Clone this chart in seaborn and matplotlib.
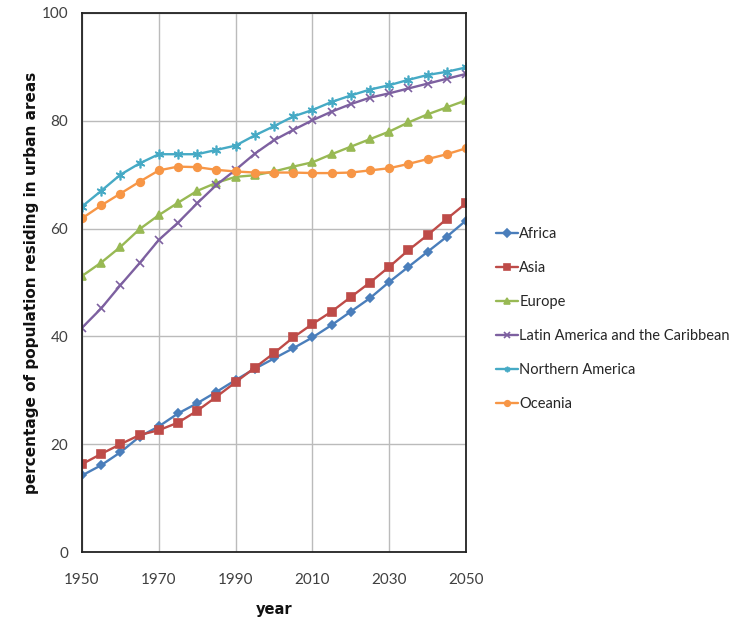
import numpy as np
import pandas as pd
import matplotlib
matplotlib.use("Agg")
import matplotlib.pyplot as plt
import seaborn as sns
from matplotlib.ticker import MultipleLocator

years = list(range(1950, 2051, 5))
africa = [14.2, 16.1, 18.5, 21.4, 23.3, 25.7, 27.6, 29.7, 31.9, 34.0, 35.9, 37.8, 39.8, 42.1, 44.6, 47.1, 50.1, 52.9, 55.7, 58.5, 61.5]
asia = [16.3, 18.2, 20.0, 21.7, 22.6, 24.0, 26.2, 28.8, 31.5, 34.2, 36.9, 39.8, 42.3, 44.6, 47.3, 50.0, 52.9, 56.0, 58.8, 61.8, 64.7]
europe = [51.2, 53.7, 56.6, 59.9, 62.5, 64.8, 67.0, 68.5, 69.6, 69.9, 70.6, 71.5, 72.3, 73.8, 75.2, 76.6, 78.0, 79.7, 81.2, 82.5, 83.8]
latin = [41.6, 45.2, 49.5, 53.6, 57.9, 61.1, 64.7, 68.1, 70.9, 73.9, 76.4, 78.3, 80.1, 81.7, 83.1, 84.3, 85.1, 86.0, 86.9, 87.8, 88.7]
northam = [64.1, 67.0, 70.0, 72.1, 73.8, 73.8, 73.8, 74.6, 75.4, 77.3, 79.0, 80.8, 82.0, 83.5, 84.7, 85.8, 86.6, 87.6, 88.5, 89.1, 89.9]
oceania = [61.9, 64.3, 66.5, 68.7, 70.8, 71.5, 71.4, 70.9, 70.6, 70.4, 70.4, 70.4, 70.3, 70.3, 70.4, 70.8, 71.2, 72.0, 72.9, 73.8, 74.9]

regions = ["Africa", "Asia", "Europe", "Latin America and the Caribbean", "Northern America", "Oceania"]
series = [africa, asia, europe, latin, northam, oceania]
colors = ["#4A7EBB", "#BE4B48", "#98B954", "#7D60A0", "#46AAC5", "#F79646"]
markers = ["D", "s", "^", "x", (6, 2, 0), "o"]
msizes = [4.5, 5.5, 6, 6, 7, 5.5]

df = pd.DataFrame({
    "year": np.tile(years, len(regions)),
    "value": np.concatenate(series),
    "region": np.repeat(regions, len(years)),
})

sns.set_style("white")
plt.rcParams["font.family"] = ["Lato", "DejaVu Sans"]

fig = plt.figure(figsize=(7.51, 6.21), dpi=100)
ax = fig.add_axes([82/751, 1-552/621, (466-82)/751, (552-13)/621])

for i, r in enumerate(regions):
    sub = df[df["region"] == r]
    sns.lineplot(data=sub, x="year", y="value", ax=ax, color=colors[i],
                 marker=markers[i], markersize=msizes[i], linewidth=1.7,
                 markeredgecolor=colors[i], markeredgewidth=1.2, label=r)

ax.set_xlim(1950, 2050)
ax.set_ylim(0, 100)
ax.set_xticks([1950, 1970, 1990, 2010, 2030, 2050])
ax.set_yticks([0, 20, 40, 60, 80, 100])
ax.xaxis.set_minor_locator(MultipleLocator(5))
ax.yaxis.set_minor_locator(MultipleLocator(4))
ax.tick_params(axis="both", which="major", direction="out", length=5, width=1,
               color="#555555", labelsize=11, labelcolor="#404040")
ax.tick_params(axis="both", which="minor", direction="out", length=3, width=0.8, color="#888888")
ax.tick_params(axis="x", pad=10)
ax.tick_params(axis="y", pad=5)
ax.grid(True, which="major", color="#BBBBBB", linewidth=1)
for s in ax.spines.values():
    s.set_color("#222222")
    s.set_linewidth(1.3)

ax.set_xlabel("year", fontsize=10.5, fontweight="bold", family="DejaVu Sans",
              labelpad=11, color="#111111")
ax.set_ylabel("percentage of population residing in urban areas", fontsize=11,
              fontweight="bold", family="DejaVu Sans", labelpad=2, color="#111111")

leg = ax.legend(loc="upper left", bbox_to_anchor=(490/751, 1-221/621),
                bbox_transform=fig.transFigure, frameon=False, fontsize=10.5,
                handlelength=1.5, handletextpad=0.1, labelspacing=1.37,
                borderaxespad=0)
for h in leg.legend_handles:
    h.set_markersize(4)

fig.savefig("out.png", dpi=100)
